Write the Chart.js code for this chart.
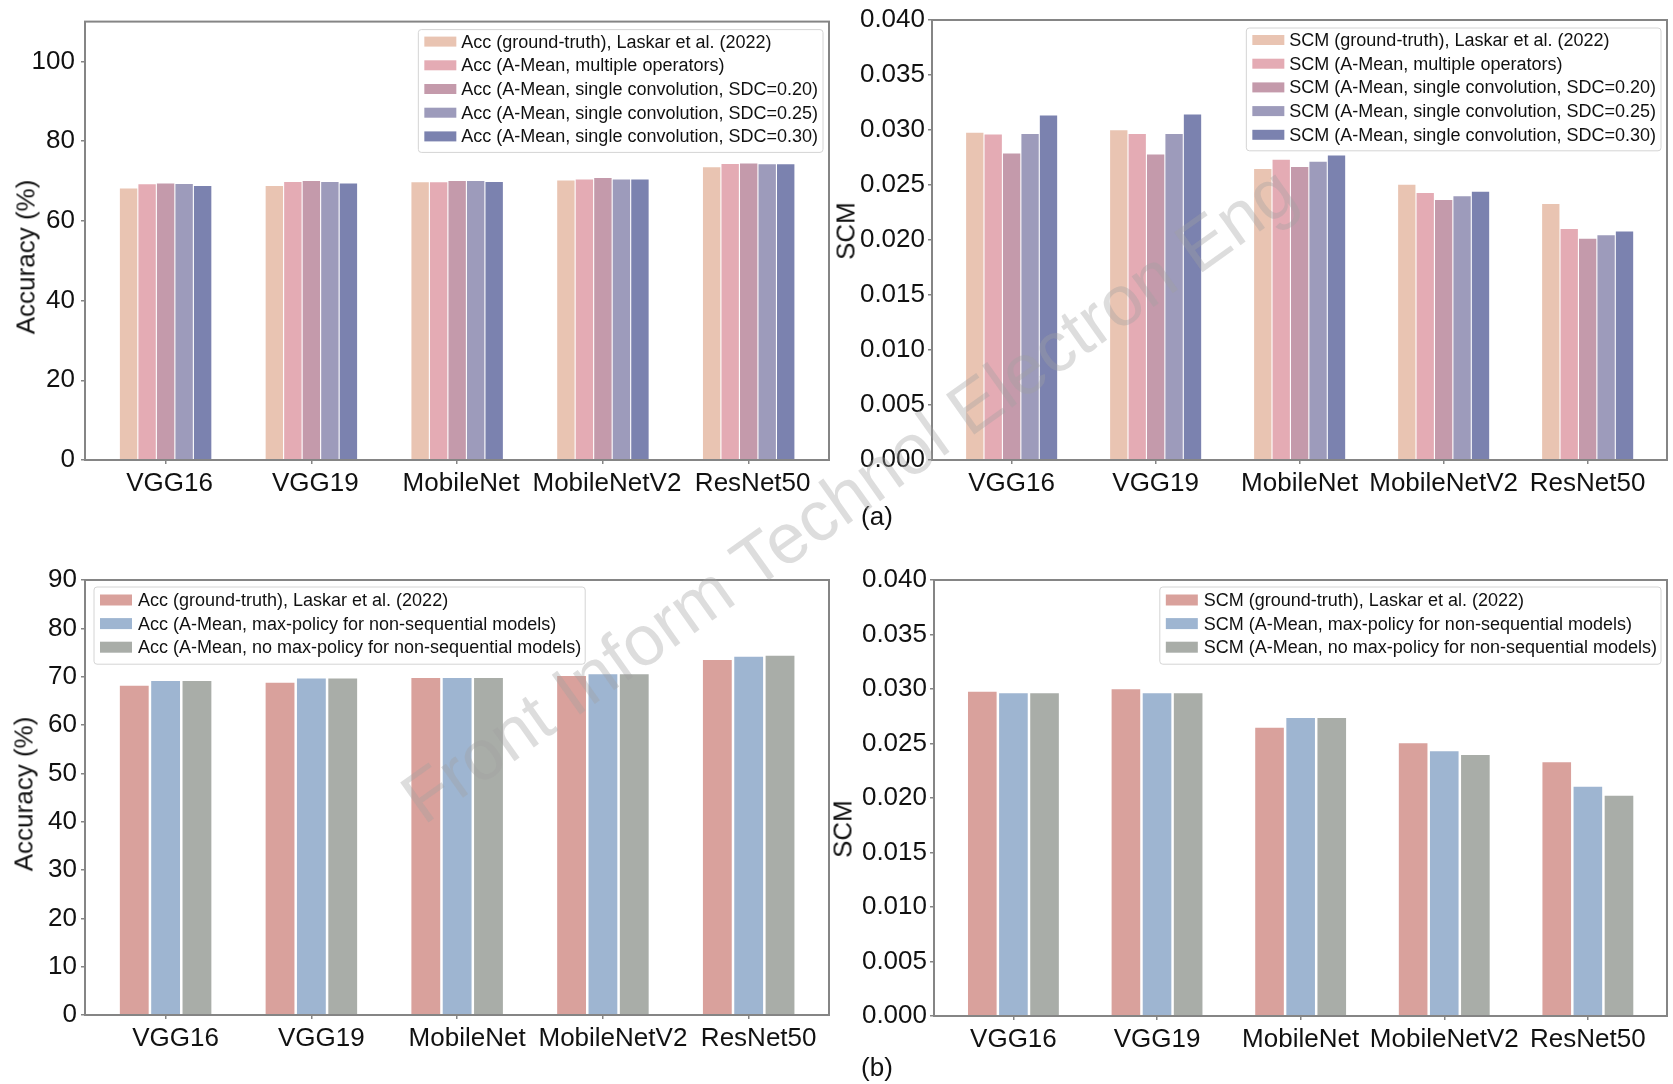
<!DOCTYPE html>
<html>
<head>
<meta charset="utf-8">
<script src="https://cdn.jsdelivr.net/npm/chart.js@4.4.1/dist/chart.umd.min.js"></script>
<style>
  html, body { margin: 0; padding: 0; background: #fff; }
  body { width: 1673px; height: 1084px; position: relative; overflow: hidden;
         font-family: "Liberation Sans", Arial, sans-serif; color: #111; }
  .panel { position: absolute; }
  .ytitle { position: absolute; font-size: 26px; white-space: nowrap;
            transform: translate(-50%, -50%) rotate(-90deg); }
  .tag { position: absolute; font-size: 26px; transform: translate(-50%, -50%); }
  .wm { position: absolute; font-size: 71px; white-space: nowrap; pointer-events: none;
        color: rgba(160, 160, 160, 0.36);
        transform: translate(-50%, -50%) rotate(-35.4deg); }
</style>
</head>
<body>
<div class="panel" id="pTL" style="left:0px;top:0px;width:839px;height:510px"><canvas id="cTL"></canvas></div>
<div class="panel" id="pTR" style="left:842px;top:0px;width:831px;height:510px"><canvas id="cTR"></canvas></div>
<div class="panel" id="pBL" style="left:0px;top:560px;width:839px;height:505px"><canvas id="cBL"></canvas></div>
<div class="panel" id="pBR" style="left:842px;top:560px;width:831px;height:506px"><canvas id="cBR"></canvas></div>

<div class="ytitle" style="left:26px;top:257px">Accuracy (%)</div>
<div class="ytitle" style="left:846px;top:231px">SCM</div>
<div class="ytitle" style="left:24px;top:794px">Accuracy (%)</div>
<div class="ytitle" style="left:843px;top:829px">SCM</div>
<div class="tag" style="left:877px;top:516px">(a)</div>
<div class="tag" style="left:877px;top:1067px">(b)</div>
<div class="wm" style="left:848px;top:494px">Front Inform Technol Electron Eng</div>

<script>
// Models on the x axis
const categories = ['VGG16', 'VGG19', 'MobileNet', 'MobileNetV2', 'ResNet50'];

// (a) accuracy, %
const accGroundTruth   = [68.1, 68.75, 69.7, 70.15, 73.45];
const accMultipleOps   = [69.2, 69.75, 69.7, 70.4, 74.25];
const accSdc020        = [69.4, 70.0, 70.0, 70.75, 74.4];
const accSdc025        = [69.25, 69.75, 70.0, 70.4, 74.2];
const accSdc030        = [68.75, 69.4, 69.75, 70.4, 74.2];

// (a) SCM
const scmGroundTruth   = [0.02975, 0.02997, 0.02645, 0.02502, 0.02327];
const scmMultipleOps   = [0.02958, 0.02964, 0.02729, 0.02427, 0.02101];
const scmSdc020        = [0.02786, 0.02777, 0.02663, 0.02364, 0.02011];
const scmSdc025        = [0.02964, 0.02964, 0.02711, 0.02397, 0.02044];
const scmSdc030        = [0.03131, 0.03140, 0.02768, 0.02439, 0.02077];

// (b) accuracy, %
const accMaxPolicy     = [69.1, 69.6, 69.75, 70.5, 74.1];
const accNoMaxPolicy   = [69.1, 69.6, 69.75, 70.5, 74.35];

// (b) SCM
const scmMaxPolicy     = [0.02961, 0.02961, 0.02734, 0.02430, 0.02104];
const scmNoMaxPolicy   = [0.02961, 0.02961, 0.02734, 0.02395, 0.02021];

// y-axis tick values
const accTicksA = [0, 20, 40, 60, 80, 100];
const accTicksB = [0, 10, 20, 30, 40, 50, 60, 70, 80, 90];
const scmTicks  = [0, 0.005, 0.010, 0.015, 0.020, 0.025, 0.030, 0.035, 0.040];

const colorsA = ['#e9c4b2', '#e4abb4', '#c49aab', '#9d9bbb', '#7b82af'];
const colorsB = ['#d9a19c', '#9eb5d1', '#a9ada8'];

const FONT = '"Liberation Sans", Arial, sans-serif';

// Plot frame (all four spines)
const framePlugin = {
  id: 'frame',
  afterDatasetsDraw(chart) {
    const { ctx, chartArea: a } = chart;
    ctx.save();
    ctx.strokeStyle = '#858585';
    ctx.lineWidth = 2;
    ctx.strokeRect(a.left, a.top, a.right - a.left, a.bottom - a.top);
    ctx.restore();
  }
};

// Framed legend placed inside the plot area
const boxLegend = {
  id: 'boxLegend',
  afterDraw(chart, args, o) {
    const { ctx, chartArea: a } = chart;
    const ds = chart.data.datasets;
    ctx.save();
    ctx.font = `${o.fontSize}px ${FONT}`;
    const textW = Math.max(...ds.map(d => ctx.measureText(d.label).width));
    const w = o.padL + o.patchW + o.gap + textW + o.padR;
    const h = o.firstRow + (ds.length - 1) * o.rowH + o.lastPad;
    const x = o.side === 'right' ? a.right - o.insetX - w : a.left + o.insetX;
    const y = a.top + o.insetY;
    const r = 3;
    ctx.beginPath();
    ctx.moveTo(x + r, y);
    ctx.lineTo(x + w - r, y); ctx.arcTo(x + w, y, x + w, y + r, r);
    ctx.lineTo(x + w, y + h - r); ctx.arcTo(x + w, y + h, x + w - r, y + h, r);
    ctx.lineTo(x + r, y + h); ctx.arcTo(x, y + h, x, y + h - r, r);
    ctx.lineTo(x, y + r); ctx.arcTo(x, y, x + r, y, r);
    ctx.closePath();
    ctx.fillStyle = 'rgba(255,255,255,0.85)';
    ctx.fill();
    ctx.strokeStyle = '#d4d4d4';
    ctx.lineWidth = 1;
    ctx.stroke();
    ctx.textBaseline = 'middle';
    ctx.textAlign = 'left';
    ds.forEach((d, i) => {
      const cy = y + o.firstRow + i * o.rowH;
      ctx.fillStyle = d.backgroundColor;
      ctx.fillRect(x + o.padL, cy - o.patchH / 2, o.patchW, o.patchH);
      ctx.fillStyle = '#111';
      ctx.fillText(d.label, x + o.padL + o.patchW + o.gap, cy + 1);
    });
    ctx.restore();
  }
};

function buildChart(id, cfg) {
  return new Chart(document.getElementById(id), {
    type: 'bar',
    data: {
      datasets: cfg.series.map((s, k) => ({
        label: s.label,
        data: s.values.map((v, i) => ({ x: i, y: v })),
        backgroundColor: cfg.colors[k],
        borderWidth: 0,
        categoryPercentage: cfg.catPct,
        barPercentage: cfg.barPct
      }))
    },
    options: {
      responsive: true,
      maintainAspectRatio: false,
      animation: false,
      events: [],
      layout: { padding: { top: 20, right: cfg.padRight, left: 0, bottom: 0 } },
      scales: {
        x: {
          type: 'linear',
          min: -0.553, max: 4.551,
          offset: false,
          afterBuildTicks: s => { s.ticks = categories.map((c, i) => ({ value: i })); },
          afterFit: s => { s.height = 50; },
          border: { display: false },
          grid: { display: true, offset: false, drawOnChartArea: false, drawTicks: true,
                  tickLength: 4, tickColor: '#858585', lineWidth: 1.5 },
          ticks: { autoSkip: false, maxRotation: 0, padding: 4, labelOffset: cfg.labelOffset,
                   color: '#111', font: { family: FONT, size: 26 },
                   callback: v => categories[v] }
        },
        y: {
          min: 0, max: cfg.yMax,
          afterBuildTicks: s => { s.ticks = cfg.yTicks.map(v => ({ value: v })); },
          afterFit: s => { s.width = cfg.yWidth; },
          border: { display: false },
          grid: { display: true, drawOnChartArea: false, drawTicks: true,
                  tickLength: 4, tickColor: '#858585', lineWidth: 1.5 },
          ticks: { padding: cfg.yPad, color: '#111', font: { family: FONT, size: 26 },
                   callback: cfg.yFormat }
        }
      },
      plugins: {
        legend: { display: false },
        tooltip: { enabled: false },
        boxLegend: cfg.legend
      }
    },
    plugins: [framePlugin, boxLegend]
  });
}

const legendA = { fontSize: 18, padL: 6, patchW: 32, patchH: 10, gap: 5, padR: 5,
                  firstRow: 12, rowH: 23.7, lastPad: 16, side: 'right', insetX: 6, insetY: 8 };
const legendB = { fontSize: 18, padL: 6, patchW: 32, patchH: 11, gap: 6, padR: 4,
                  firstRow: 13, rowH: 23.6, lastPad: 17, insetY: 7 };

buildChart('cTL', {
  series: [
    { label: 'Acc (ground-truth), Laskar et al. (2022)', values: accGroundTruth },
    { label: 'Acc (A-Mean, multiple operators)', values: accMultipleOps },
    { label: 'Acc (A-Mean, single convolution, SDC=0.20)', values: accSdc020 },
    { label: 'Acc (A-Mean, single convolution, SDC=0.25)', values: accSdc025 },
    { label: 'Acc (A-Mean, single convolution, SDC=0.30)', values: accSdc030 }
  ],
  colors: colorsA, catPct: 0.635, barPct: 0.94,
  yMax: 110, yTicks: accTicksA, yFormat: v => String(v), yWidth: 85, yPad: 6,
  padRight: 10, labelOffset: 4,
  legend: legendA
});

buildChart('cTR', {
  series: [
    { label: 'SCM (ground-truth), Laskar et al. (2022)', values: scmGroundTruth },
    { label: 'SCM (A-Mean, multiple operators)', values: scmMultipleOps },
    { label: 'SCM (A-Mean, single convolution, SDC=0.20)', values: scmSdc020 },
    { label: 'SCM (A-Mean, single convolution, SDC=0.25)', values: scmSdc025 },
    { label: 'SCM (A-Mean, single convolution, SDC=0.30)', values: scmSdc030 }
  ],
  colors: colorsA, catPct: 0.64, barPct: 0.94,
  yMax: 0.04, yTicks: scmTicks, yFormat: v => v.toFixed(3), yWidth: 90, yPad: 3,
  padRight: 6, labelOffset: 0,
  legend: legendA
});

buildChart('cBL', {
  series: [
    { label: 'Acc (ground-truth), Laskar et al. (2022)', values: accGroundTruth },
    { label: 'Acc (A-Mean, max-policy for non-sequential models)', values: accMaxPolicy },
    { label: 'Acc (A-Mean, no max-policy for non-sequential models)', values: accNoMaxPolicy }
  ],
  colors: colorsB, catPct: 0.645, barPct: 0.92,
  yMax: 90, yTicks: accTicksB, yFormat: v => String(v), yWidth: 85, yPad: 4,
  padRight: 10, labelOffset: 10,
  legend: Object.assign({}, legendB, { side: 'left', insetX: 9 })
});

buildChart('cBR', {
  series: [
    { label: 'SCM (ground-truth), Laskar et al. (2022)', values: scmGroundTruth },
    { label: 'SCM (A-Mean, max-policy for non-sequential models)', values: scmMaxPolicy },
    { label: 'SCM (A-Mean, no max-policy for non-sequential models)', values: scmNoMaxPolicy }
  ],
  colors: colorsB, catPct: 0.65, barPct: 0.92,
  yMax: 0.04, yTicks: scmTicks, yFormat: v => v.toFixed(3), yWidth: 92, yPad: 3,
  padRight: 6, labelOffset: 0,
  legend: Object.assign({}, legendB, { side: 'right', insetX: 6 })
});
</script>
</body>
</html>
